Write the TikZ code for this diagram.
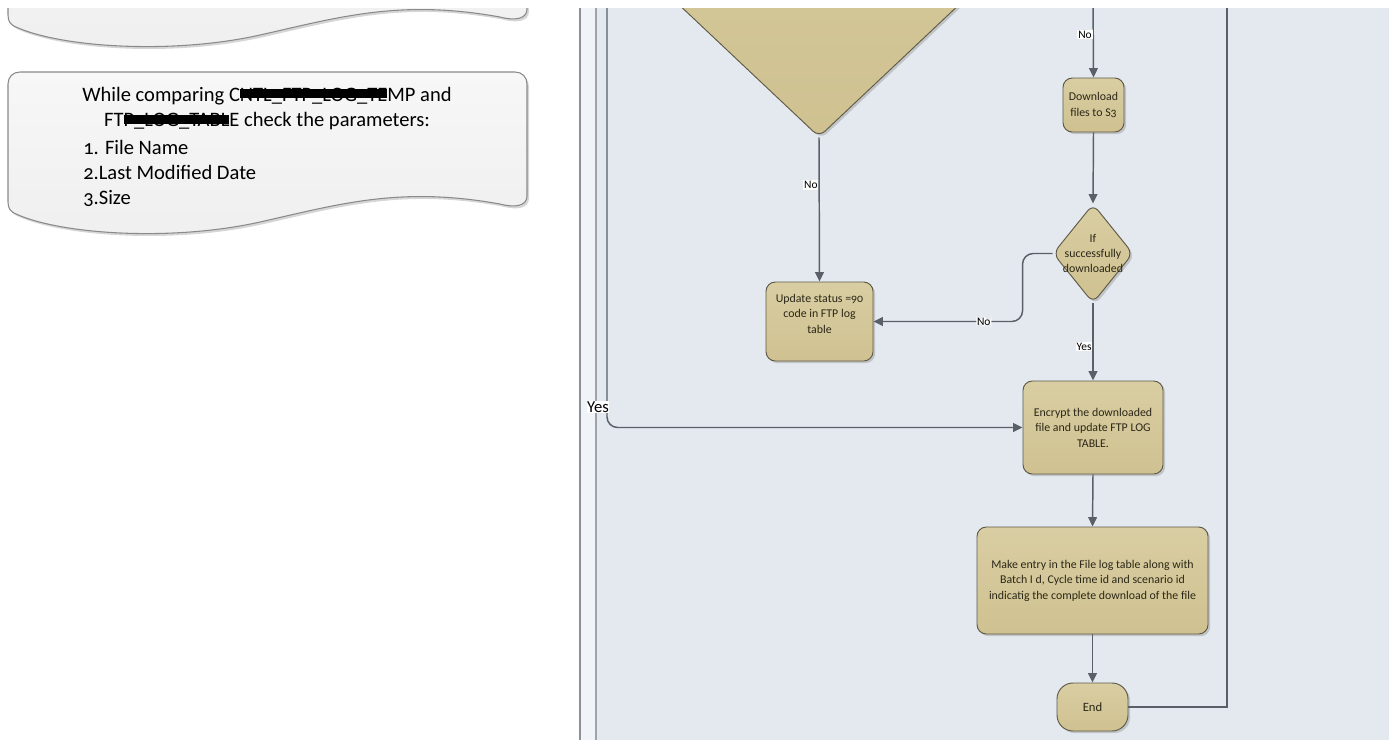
\documentclass[tikz,border=0pt]{standalone}
\usepackage{fontspec}
\setmainfont{Carlito}[Numbers=OldStyle]
\usetikzlibrary{shapes.geometric,arrows.meta,shadows,calc}

\definecolor{panelbg}{HTML}{E3E9EE}
\definecolor{stripbg}{HTML}{F0F4F8}
\definecolor{boxtop}{HTML}{D9CEA3}
\definecolor{boxbot}{HTML}{CFC190}
\definecolor{boxedge}{HTML}{5F5A48}
\definecolor{wire}{HTML}{5A6068}
\definecolor{ink}{HTML}{2B2717}
\definecolor{docedge}{HTML}{8A8A8A}
\definecolor{doctop}{HTML}{F7F7F8}
\definecolor{docbot}{HTML}{EFEFF0}
\definecolor{railA}{HTML}{8C9197}
\definecolor{railB}{HTML}{9EA4AA}

% black marker bar drawn over a piece of text
\newcommand\inkbar[1]{\setbox0=\hbox{#1}\rlap{\copy0}\raisebox{0.14em}{\rule{\wd0}{0.44em}}}

\tikzset{
  boxsize/.style 2 args={minimum width=#1*0.75pt, minimum height=#2*0.75pt},
  shade box/.style={draw=boxedge, line width=0.7pt, top color=boxtop, bottom color=boxbot,
    drop shadow={shadow xshift=1.6pt, shadow yshift=-1.6pt, fill=black!40, opacity=0.45}},
  stepbox/.style={shade box, rectangle, rounded corners=7pt, inner sep=0pt, align=center,
    text=ink, font=\fontsize{8.9}{11.6}\selectfont},
  endbox/.style={stepbox, rounded corners=12pt, font=\fontsize{9.5}{11}\selectfont},
  decision/.style={shade box, diamond, inner sep=0pt, rounded corners=6pt},
  dectext/.style={align=center, text=ink, inner sep=0pt, font=\fontsize{8.9}{11.6}\selectfont},
  flow/.style={draw=wire, line width=1.1pt, -{Triangle[length=7pt,width=6.5pt]}},
  wireline/.style={draw=wire, line width=1.5pt},
  tag/.style={fill=white, inner sep=0.6pt, text=black, font=\fontsize{8.6}{9}\selectfont},
  bigtag/.style={fill=white, inner sep=0.4pt, text=black, font=\fontsize{12.5}{13}\selectfont},
  docshape/.style={draw=docedge, line width=0.8pt, top color=doctop, bottom color=docbot,
    drop shadow={shadow xshift=1.5pt, shadow yshift=-1.8pt, fill=black!45, opacity=0.35}},
  doctext/.style={text=black, inner sep=0pt, font=\fontsize{15.4}{19}\selectfont},
}

% outline of a wavy-bottomed note
\newcommand\notepath{(8,84) -- (8,202) .. controls (8,209) and (11,212) .. (16,214)
  .. controls (60,234) and (170,242) .. (260,222)
  .. controls (340,204) and (400,186) .. (500,204)
  .. controls (515,208) and (527,206) .. (527,196) -- (527,84)
  .. controls (527,77) and (522,72) .. (515,72) -- (20,72)
  .. controls (13,72) and (8,77) .. (8,84) -- cycle}

\begin{document}
\begin{tikzpicture}[x=0.75pt,y=-0.75pt]
\useasboundingbox[fill=white] (0,0) rectangle (1389,740);
\begin{scope}
\clip (0,8) rectangle (1389,740);

% notes on the left
\begin{scope}[shift={(0,-187)}]
  \path[docshape] \notepath;
\end{scope}
\path[docshape] \notepath;
\node[doctext] (n1) at (267,96) {While comparing C\inkbar{NTL\_FTP\_LOG\_TE}MP and};
\node[doctext] (n2) at (267,121.5) {FT\inkbar{P\_LOG\_TABL}E check the parameters:};
\node[doctext, anchor=west] (n3) at (83,147) {1. File Name};
\node[doctext, anchor=west] (n4) at (83,172.5) {2.Last Modified Date};
\node[doctext, anchor=west] (n5) at (83,198) {3.Size};

% swimlane panel
\fill[panelbg] (580,8) rectangle (1389,740);
\fill[stripbg] (581,8) rectangle (595,740);
\draw[railA, line width=1.5pt] (580,8) -- (580,740);
\draw[railB, line width=1.3pt] (596,8) -- (596,740);

% shapes
\node[decision, boxsize={424}{400}] (chk) at (819,-63) {};
\node[stepbox, boxsize={61}{54}] (dl) at (1093.5,105) {Download\\files to S3};
\node[decision, boxsize={80}{99}] (ok) at (1093,253.5) {};
\node[dectext] (oktxt) at (1093,253.5) {If\\successfully\\downloaded};
\node[stepbox, boxsize={107}{79}] (upd) at (819.5,321.5) {Update status =90\\code in FTP log\\table\\[0pt]\mbox{}};
\node[stepbox, boxsize={140}{93}] (enc) at (1093,427.5) {Encrypt the downloaded\\file and update FTP LOG\\TABLE.};
\node[stepbox, boxsize={231}{107}] (mk) at (1092.5,580.5) {Make entry in the File log table along with\\Batch I d, Cycle time id and scenario id\\indicatig the complete download of the file};
\node[endbox, boxsize={71}{48}] (fin) at (1092.5,707) {End};

% connectors
\coordinate (ytop) at (607,-10);
\coordinate (ntop) at (1093,-10);
\coordinate (rtop) at (1227,-10);

\draw[flow] (chk.south) -- node[tag, pos=0.33, anchor=east] (lno1) {No} (upd.north);
\draw[flow] (ntop) -- node[tag, pos=0.51, anchor=east] (lno2) {No} (dl.north);
\draw[flow] (dl.south) -- (ok.north);
\draw[flow, rounded corners=8pt] (ok.west) -- ($(ok.west)+(-30,0)$) |- node[tag, pos=0.63] (lno3) {No} (upd.east);
\draw[flow] (ok.south) -- node[tag, pos=0.56, anchor=east] (lyes1) {Yes} (enc.north);
\draw[flow, rounded corners=8pt] (ytop) |- (enc.west);
\draw[flow] (enc.south) -- (mk.north);
\draw[flow] (mk.south) -- (fin.north);
\draw[wireline] (fin.east) -| (rtop);

\node[bigtag] (lyes2) at (598,407) {Yes};
\end{scope}
\end{tikzpicture}
\end{document}
